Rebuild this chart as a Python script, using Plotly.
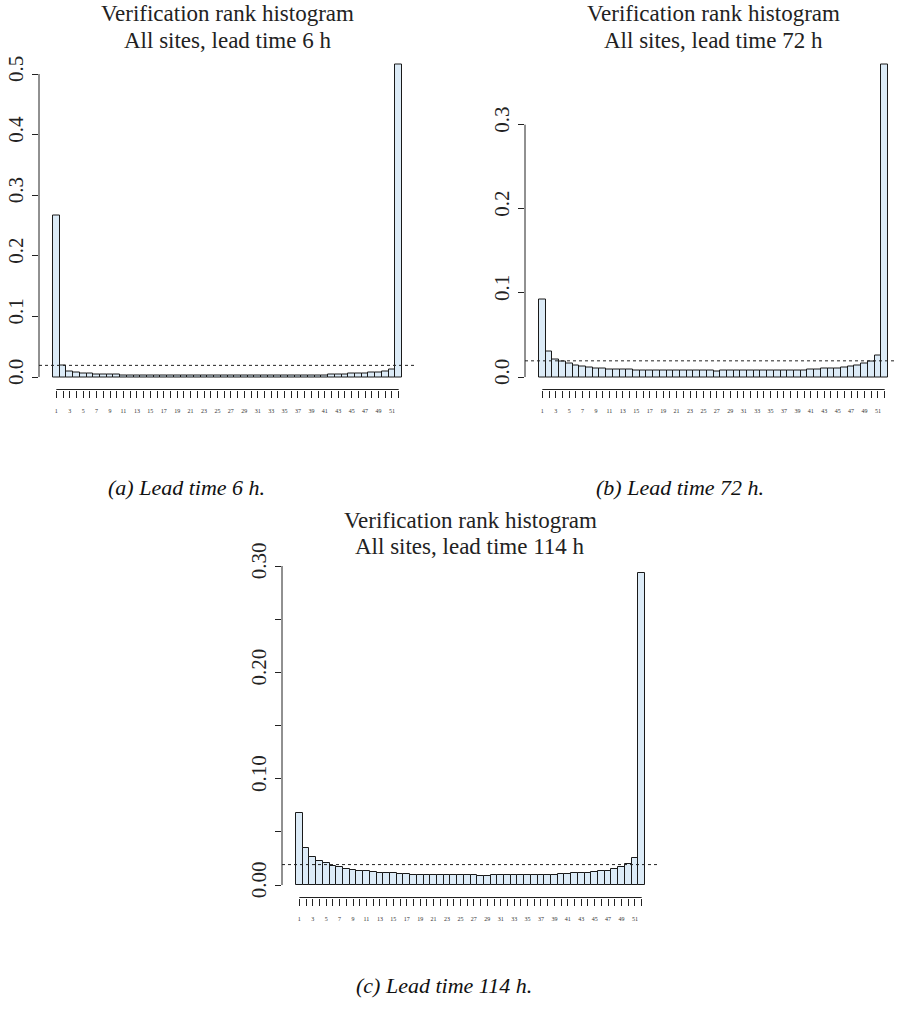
import plotly.graph_objects as go

# ---------------- data ----------------
ranks = list(range(1, 53))

freq_6h = [0.267, 0.0186, 0.0099, 0.0076, 0.0066, 0.0050, 0.0044, 0.0044, 0.0038, 0.0038,
           0.0030, 0.0029, 0.0028, 0.0028, 0.0028, 0.0028, 0.0028, 0.0028, 0.0027, 0.0027,
           0.0027, 0.0027, 0.0027, 0.0027, 0.0027, 0.0027, 0.0027, 0.0027, 0.0027, 0.0027,
           0.0027, 0.0027, 0.0027, 0.0027, 0.0028, 0.0028, 0.0028, 0.0029, 0.0030, 0.0031,
           0.0033, 0.0036, 0.0048, 0.0049, 0.0050, 0.0055, 0.0064, 0.0070, 0.0077, 0.0088,
           0.0120, 0.515]

freq_72h = [0.0920, 0.0298, 0.0214, 0.0183, 0.0155, 0.0135, 0.0127, 0.0119, 0.0107, 0.0107,
            0.0095, 0.0091, 0.0091, 0.0091, 0.0079, 0.0083, 0.0079, 0.0075, 0.0075, 0.0075,
            0.0075, 0.0075, 0.0075, 0.0075, 0.0074, 0.0073, 0.0071, 0.0075, 0.0075, 0.0075,
            0.0075, 0.0075, 0.0075, 0.0075, 0.0075, 0.0075, 0.0076, 0.0077, 0.0079, 0.0083,
            0.0091, 0.0095, 0.0103, 0.0103, 0.0107, 0.0119, 0.0123, 0.0139, 0.0159, 0.0187,
            0.0250, 0.371]

freq_114h = [0.0682, 0.0346, 0.0264, 0.0223, 0.0204, 0.0176, 0.0167, 0.0154, 0.0142, 0.0132,
             0.0129, 0.0120, 0.0116, 0.0110, 0.0110, 0.0104, 0.0101, 0.0097, 0.0097, 0.0094,
             0.0097, 0.0094, 0.0094, 0.0097, 0.0091, 0.0094, 0.0091, 0.0088, 0.0085, 0.0091,
             0.0091, 0.0091, 0.0091, 0.0091, 0.0094, 0.0097, 0.0094, 0.0097, 0.0097, 0.0104,
             0.0107, 0.0110, 0.0113, 0.0116, 0.0120, 0.0129, 0.0132, 0.0148, 0.0167, 0.0198,
             0.0258, 0.293]

ytick_6h = [0.0, 0.1, 0.2, 0.3, 0.4, 0.5]
ytext_6h = ["0.0", "0.1", "0.2", "0.3", "0.4", "0.5"]
ytick_72h = [0.0, 0.1, 0.2, 0.3]
ytext_72h = ["0.0", "0.1", "0.2", "0.3"]
ytick_114h = [0.0, 0.05, 0.10, 0.15, 0.20, 0.25, 0.30]
ytext_114h = ["0.00", "", "0.10", "", "0.20", "", "0.30"]

title_line1 = "Verification rank histogram"
title_line2 = ["All sites, lead time 6 h", "All sites, lead time 72 h",
               "All sites, lead time 114 h"]
captions = ["(a) Lead time 6 h.", "(b) Lead time 72 h.", "(c) Lead time 114 h."]

# ---------------- layout ----------------
W, H = 897, 1010
FONT = "Liberation Serif"
FILL = "#dcebf7"
TFS = 23   # title font size

# plot-region boxes in pixels: left, top, right, bottom
boxes = [(39, 52.5, 416, 389.5), (525, 52.5, 902, 389.5), (282, 561, 659, 897.5)]
# title baselines (px) for the two lines
title_base = [(21.7, 48.0), (21.7, 48.0), (528.3, 554.3)]
caption_pos = [(186.5, 487), (680, 487), (444, 985)]

series = [(freq_6h, ytick_6h, ytext_6h), (freq_72h, ytick_72h, ytext_72h),
          (freq_114h, ytick_114h, ytext_114h)]

fig = go.Figure()
shapes = []
annotations = []
n = len(ranks)
centers = [r - 0.5 for r in ranks]
xlo, xhi = -0.04 * n, 1.04 * n
xtext = [str(r) if r % 2 == 1 else "" for r in ranks]

for i, ((vals, yt, ytt), box, cap, tb) in enumerate(
        zip(series, boxes, caption_pos, title_base)):
    sfx = "" if i == 0 else str(i + 1)
    L, T, R, B = box
    right_px = min(R, W)
    x_hi = xlo + (xhi - xlo) * (right_px - L) / (R - L)
    ymax = max(vals)
    fig.add_trace(go.Bar(
        x=centers, y=vals, width=1,
        marker=dict(color=FILL, line=dict(color="#1a1a1a", width=1)),
        xaxis="x" + sfx, yaxis="y" + sfx, showlegend=False, hoverinfo="skip"))
    fig.layout["xaxis" + sfx] = dict(
        domain=[L / W, right_px / W], range=[xlo, x_hi], anchor="y" + sfx,
        showgrid=False, zeroline=False, showline=False, automargin=False,
        ticks="outside", ticklen=7, tickwidth=1, tickcolor="#222",
        tickvals=centers, ticktext=xtext, tickangle=0,
        tickfont=dict(family=FONT, size=6, color="#333"), ticklabelstandoff=8)
    fig.layout["yaxis" + sfx] = dict(
        domain=[1 - B / H, 1 - T / H], range=[-0.04 * ymax, 1.04 * ymax],
        anchor="x" + sfx, showgrid=False, zeroline=False, showline=False,
        automargin=False,
        ticks="outside", ticklen=6, tickwidth=1, tickcolor="#222",
        tickvals=yt, ticktext=ytt, tickangle=-90,
        tickfont=dict(family=FONT, size=21, color="#222"),
        ticklabelstandoff=1, ticklabelshift=-2)
    xr, yr = "x" + sfx, "y" + sfx
    # y axis line between first and last tick
    shapes.append(dict(type="line", xref=xr + " domain", yref=yr, x0=0, x1=0,
                       y0=yt[0], y1=yt[-1], line=dict(color="#222", width=1)))
    # x axis line between first and last tick
    shapes.append(dict(type="line", xref=xr, yref=yr + " domain", x0=centers[0],
                       x1=centers[-1], y0=0, y1=0, line=dict(color="#222", width=1)))
    # uniform reference level 1/(number of ranks)
    shapes.append(dict(type="line", xref=xr + " domain", yref=yr, x0=0, x1=1,
                       y0=1 / n, y1=1 / n,
                       line=dict(color="#222", width=1, dash="3px,3px")))
    cx = (L + R) / 2
    for txt, base in ((title_line1, tb[0]), (title_line2[i], tb[1])):
        cy = base - 0.3375 * TFS
        annotations.append(dict(text=txt, x=cx / W, y=1 - cy / H, xref="paper",
                                yref="paper", showarrow=False, xanchor="center",
                                yanchor="middle",
                                font=dict(family=FONT, size=TFS, color="#222")))
    annotations.append(dict(text="<i>" + captions[i] + "</i>", x=cap[0] / W,
                            y=1 - cap[1] / H, xref="paper", yref="paper",
                            showarrow=False, xanchor="center", yanchor="middle",
                            font=dict(family=FONT, size=22, color="#111")))

fig.update_layout(width=W, height=H,
                  margin=dict(l=0, r=0, t=0, b=0, pad=0, autoexpand=False),
                  paper_bgcolor="white", plot_bgcolor="white", bargap=0,
                  shapes=shapes, annotations=annotations)

fig.write_html("out.html", post_script="document.body.style.margin='0';")
